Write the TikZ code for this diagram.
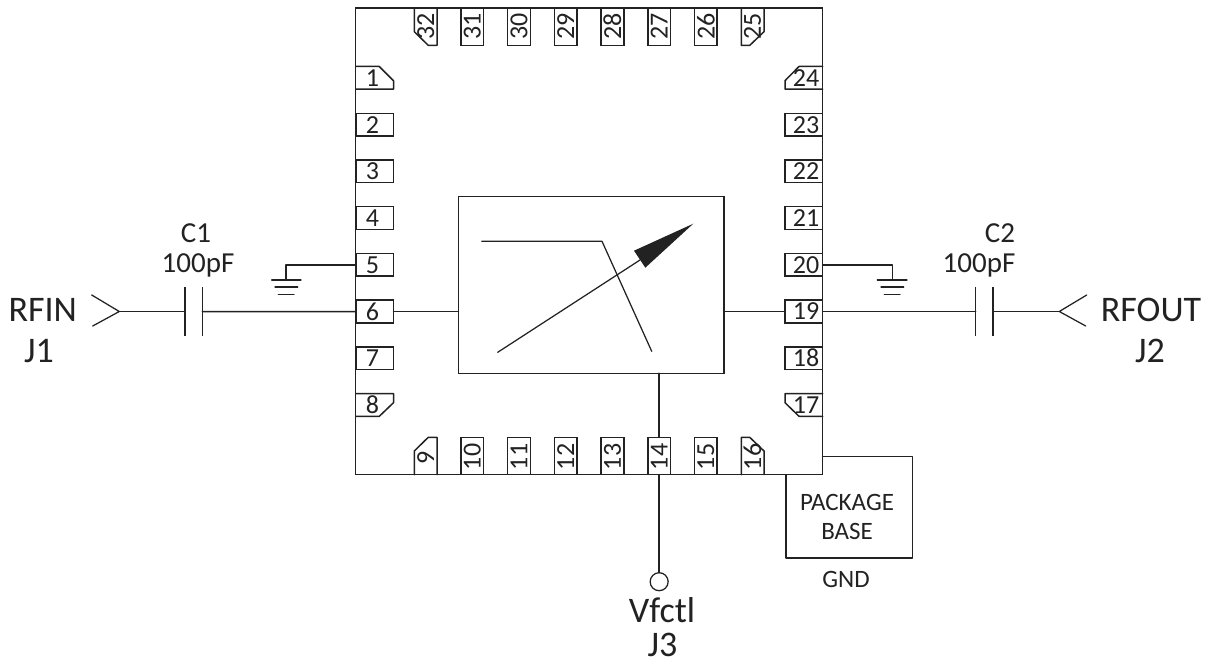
\documentclass[tikz,border=0pt]{standalone}
\usepackage{fontspec}
\setmainfont{Carlito}
\definecolor{ink}{HTML}{222222}
\tikzset{
  wire/.style={draw=ink,line width=1.5pt,line cap=round,line join=round},
  thin wire/.style={draw=ink,line width=1.25pt,line cap=round,line join=round},
  pinh/.style={draw=ink,line width=1.5pt,minimum width=37.7pt,minimum height=22.7pt,inner sep=0pt,outer sep=0pt,shape=rectangle},
  pinv/.style={draw=ink,line width=1.5pt,minimum width=22.7pt,minimum height=37.4pt,inner sep=0pt,outer sep=0pt,shape=rectangle},
  pinnum/.style={text=ink,font=\fontsize{26}{26}\selectfont,inner sep=0pt},
  lab/.style={text=ink,anchor=base,inner sep=0pt},
  labbig/.style={lab,font=\fontsize{36}{36}\selectfont},
  labmid/.style={lab,font=\fontsize{29}{29}\selectfont},
  labsmall/.style={lab,font=\fontsize{25}{25}\selectfont},
  block/.style={draw=ink,line width=1.5pt,shape=rectangle,inner sep=0pt,outer sep=0pt},
  port/.style={draw=ink,line width=1.25pt,shape=circle,minimum size=18pt,inner sep=0pt,outer sep=0pt},
  plate/.style={draw=ink,line width=1.5pt},
}
\begin{document}
\begin{tikzpicture}[x=1pt,y=-1pt]
\useasboundingbox (0,0) rectangle (1205,663);
% package outline
\node[block,minimum width=467pt,minimum height=466.7pt] (pkg) at (589.2,241.3) {};
\node[block,minimum width=265.7pt,minimum height=176.6pt] (core) at (591.2,285) {};
\coordinate (bne) at (912.3,456.7);
\coordinate (bsw) at (786,558);
\draw[wire] (pkg.east |- bne) -- (bne) -- (bne |- bsw) -- (bsw) -- (bsw |- pkg.south);
% plain pins
\foreach \n in {2,...,7}{
  \pgfmathsetmacro\yy{78+46.7*(\n-1)}
  \node[pinh] (p\n) at (374.85,\yy) {};
  \node[pinnum] at (372.5,\yy) {\n};
}
\foreach \n/\k in {18/0,19/1,20/2,21/3,22/4,23/5}{
  \pgfmathsetmacro\yy{358.2-46.7*\k}
  \node[pinh] (p\n) at (803.85,\yy) {};
  \node[pinnum] at (806,\yy) {\n};
}
\foreach \n/\k in {31/0,30/1,29/2,28/3,27/4,26/5}{
  \pgfmathsetmacro\xx{472.35+46.7*\k}
  \node[pinv] (p\n) at (\xx,26.7) {};
  \node[pinnum,rotate=90] at (\xx,26.5) {\n};
}
\foreach \n/\k in {10/0,11/1,12/2,13/3,14/4,15/5}{
  \pgfmathsetmacro\xx{472.35+46.7*\k}
  \node[pinv] (p\n) at (\xx,456) {};
  \node[pinnum,rotate=90] at (\xx,457) {\n};
}
% chamfered corner pins
\draw[wire] (356,66.5) -- (379.3,66.5) -- (393.5,80.7) -- (393.5,89.2) -- (356,89.2);
\node[pinnum] (p1) at (372.5,77.85) {1};
\draw[wire] (356,393.6) -- (393.5,393.6) -- (393.5,402.7) -- (379.3,416.3) -- (356,416.3);
\node[pinnum] (p8) at (372.5,405) {8};
\draw[wire] (822.7,66.5) -- (799,66.5) -- (785,80.7) -- (785,89.2) -- (822.7,89.2);
\node[pinnum] (p24) at (806,78) {24};
\draw[wire] (822.7,393.6) -- (785,393.6) -- (785,402.7) -- (799,416.3) -- (822.7,416.3);
\node[pinnum] (p17) at (806,405) {17};
\draw[wire] (414.3,8) -- (414.3,31.7) -- (428.3,45.4) -- (437,45.4) -- (437,8);
\node[pinnum,rotate=90] (p32) at (425.8,26.5) {32};
\draw[wire] (741.3,8) -- (741.3,45.4) -- (749.7,45.4) -- (764,31.7) -- (764,8);
\node[pinnum,rotate=90] (p25) at (752.5,26.5) {25};
\draw[wire] (414.3,474.7) -- (414.3,451) -- (428.3,437.3) -- (437,437.3) -- (437,474.7);
\node[pinnum,rotate=90] (p9) at (425.8,458) {9};
\draw[wire] (741.3,474.7) -- (741.3,437.3) -- (749.7,437.3) -- (764,451) -- (764,474.7);
\node[pinnum,rotate=90] (p16) at (752.5,457) {16};
% core symbol
\coordinate (fa) at (481.7,241.3);
\coordinate (fb) at (602,241.3);
\coordinate (fc) at (651.7,351.3);
\draw[thin wire] (fa) -- (fb) -- (fc);
\coordinate (aa) at (497.7,352.3);
\coordinate (ab) at (640,260);
\coordinate (at) at (693.3,223.7);
\draw[thin wire] (aa) -- (ab);
\fill[ink] (at) -- (634,250.7) -- (645.3,267.7) -- cycle;
% connections to the core
\draw[wire] (p6.east) -- (p6.east -| core.west);
\draw[wire] (p19.west -| core.east) -- (p19.west);
\draw[wire] (p14.north |- core.south) -- (p14.north);
\node[port] (vport) at (659.15,581.7) {};
\draw[wire] (p14.south) -- (vport.north);
% input network
\coordinate (c1a) at (185,311.5);
\coordinate (c1b) at (202.3,311.5);
\coordinate (j1) at (119.3,311.5);
\draw[thin wire] (91.7,295) -- (j1) -- (92.7,326);
\draw[wire] (j1) -- (c1a);
\draw[wire] (c1b) -- (p6.west);
\draw[plate] (185,287.3) -- (185,336);
\draw[plate] (202.3,287.3) -- (202.3,336);
% output network
\coordinate (c2a) at (975.7,311.5);
\coordinate (c2b) at (993,311.5);
\coordinate (j2) at (1059.3,311.5);
\draw[thin wire] (1086.7,295) -- (j2) -- (1085.7,326);
\draw[wire] (p19.east) -- (c2a);
\draw[wire] (c2b) -- (j2);
\draw[plate] (975.7,287.3) -- (975.7,336);
\draw[plate] (993,287.3) -- (993,336);
% grounds
\coordinate (g1) at (286,280);
\coordinate (g2) at (892.3,280);
\draw[wire] (p5.west) -- (g1 |- p5.west) -- (g1);
\draw[wire] (p20.east) -- (g2 |- p20.east) -- (g2);
\draw[thin wire] (271.7,280) -- (301,280) (275,287) -- (297.7,287) (278.3,294.3) -- (294,294.3);
\draw[thin wire] (877.3,280) -- (907,280) (881,287) -- (903.7,287) (884.3,294.3) -- (900,294.3);
% labels
\node[labmid] (tc1) at (196,242.7) {C1};
\node[labmid] (tv1) at (198,272.7) {100pF};
\node[labmid] (tc2) at (1000,242.7) {C2};
\node[labmid] (tv2) at (979,272.7) {100pF};
\node[labbig] (trfin) at (42.7,321.7) {RFIN};
\node[labbig] (tj1) at (39,362.3) {J1};
\node[labbig] (trfout) at (1151,321.7) {RFOUT};
\node[labbig] (tj2) at (1150,362.3) {J2};
\node[labbig] (tvf) at (662,622.5) {Vfctl};
\node[labbig] (tj3) at (662.5,656) {J3};
\node[labsmall] (tp) at (847,510) {PACKAGE};
\node[labsmall] (tb) at (847,539) {BASE};
\node[labsmall] (tg) at (846,587) {GND};
\end{tikzpicture}
\end{document}
